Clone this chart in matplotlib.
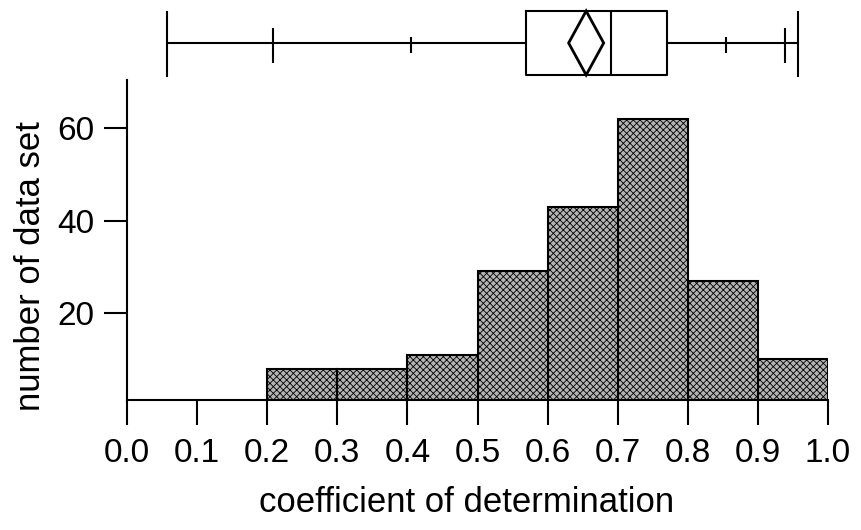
import numpy as np
import matplotlib
matplotlib.use("Agg")
import matplotlib.pyplot as plt
from matplotlib.patches import Polygon

plt.rcParams['font.family'] = ['Liberation Sans', 'DejaVu Sans']
plt.rcParams['hatch.linewidth'] = 0.6

# histogram: bin edges and counts
bin_edges = [0.0, 0.2, 0.3, 0.4, 0.5, 0.6, 0.7, 0.8, 0.9, 1.0]
counts = [1, 8, 8, 11, 29, 43, 62, 27, 10]

# quantile box plot summary
q_min, q_max = 0.057, 0.957
q_low_outer, q_high_outer = 0.208, 0.939   # taller marks
q_low_inner, q_high_inner = 0.405, 0.854   # small marks
q1, median, q3 = 0.569, 0.690, 0.770
mean, mean_ci = 0.655, 0.025

x_ticks = [0.0, 0.1, 0.2, 0.3, 0.4, 0.5, 0.6, 0.7, 0.8, 0.9, 1.0]
y_ticks = [20, 40, 60]

W, H = 861, 530
fig = plt.figure(figsize=(W / 100, H / 100), dpi=100)

# main histogram
ax = fig.add_axes([127 / W, 1 - 400 / H, 701 / W, 320 / H])
widths = np.diff(bin_edges)
ax.bar(bin_edges[:-1], counts, width=widths, align='edge', bottom=0,
       color='#b4b4b4', edgecolor='black', linewidth=1.5, hatch='xxxxx')
ax.set_xlim(0, 1)
ax.set_ylim(1.2, 70.4)
ax.set_xticks(x_ticks)
ax.set_xticklabels(['%.1f' % t for t in x_ticks])
ax.set_yticks(y_ticks)
for s in ['top', 'right']:
    ax.spines[s].set_visible(False)
ax.spines['left'].set_linewidth(1.5)
ax.spines['bottom'].set_linewidth(1.5)
ax.tick_params(axis='x', length=18, width=1.5, pad=9, labelsize=24)
ax.tick_params(axis='y', length=16.5, width=1.5, pad=7, labelsize=24)
ax.set_xlabel('coefficient of determination', fontsize=25)
ax.set_ylabel('number of data set', fontsize=25)
ax.xaxis.set_label_coords(0.485, -0.269)
ax.yaxis.set_label_coords(-0.114, 0.42)

# box plot on top
bx = fig.add_axes([127 / W, 1 - 83 / H, 701 / W, 80 / H])
bx.set_xlim(0, 1)
bx.set_ylim(-1, 1)
bx.axis('off')
lw = 1.5
bx.hlines(0, q_min, q1, color='black', lw=lw)
bx.hlines(0, q3, q_max, color='black', lw=lw)
bx.vlines([q_min, q_max], -0.85, 0.8, color='black', lw=lw)
bx.vlines([q_low_outer, q_high_outer], -0.5, 0.37, color='black', lw=lw)
bx.vlines([q_low_inner, q_high_inner], -0.25, 0.15, color='black', lw=lw)
bx.plot([q1, q3, q3, q1, q1], [0.8, 0.8, -0.8, -0.8, 0.8], color='black', lw=lw)
bx.vlines(median, -0.8, 0.8, color='black', lw=lw)
diamond = Polygon([[mean - mean_ci, 0], [mean, 0.8], [mean + mean_ci, 0], [mean, -0.8]],
                  closed=True, fill=False, edgecolor='black', lw=2)
bx.add_patch(diamond)

fig.savefig('out.png', dpi=100)
